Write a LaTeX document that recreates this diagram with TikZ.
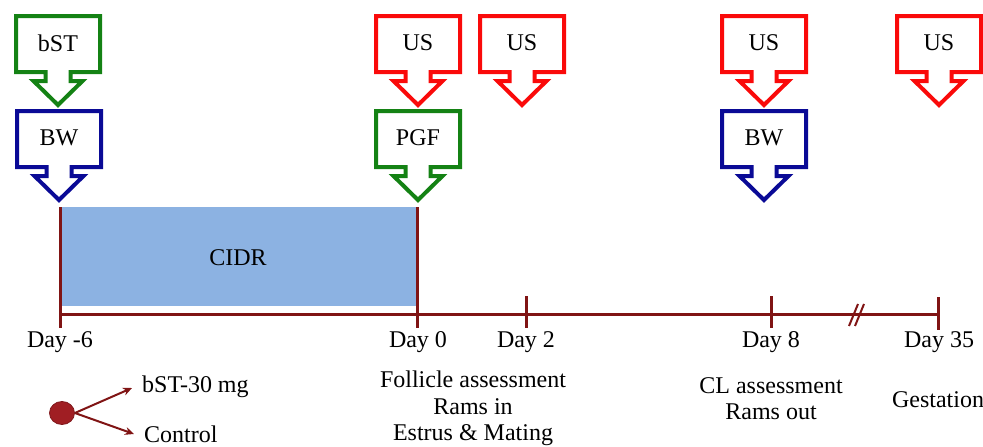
\documentclass[tikz,border=0pt]{standalone}
\usepackage{fontspec}
\setmainfont{Liberation Serif}
\usetikzlibrary{arrows.meta,shapes.geometric}
\definecolor{cgreen}{RGB}{20,130,20}
\definecolor{cred}{RGB}{250,10,10}
\definecolor{cblue}{RGB}{10,10,150}
\definecolor{cline}{RGB}{128,20,20}
\definecolor{cdot}{RGB}{160,30,35}
\definecolor{cfill}{RGB}{140,178,226}
\tikzset{
  txt/.style={font=\fontsize{24}{28}\selectfont, inner sep=0pt},
  calloutshape/.pic={
    \draw[line width=4pt, line join=miter, fill=white]
      (-42,0) -- (42,0) -- (42,56) -- (12.5,56) -- (12.5,65) -- (24.5,65)
      -- (0,89) -- (-24.5,65) -- (-12.5,65) -- (-12.5,56) -- (-42,56) -- cycle;
  },
  tline/.style={cline, line width=3pt},
  legarrow/.style={cline, line width=2pt, -{Stealth[length=9pt,width=8pt]}},
}
\newcommand{\mycallout}[5]{%
  \pic[#4] at (#2,#3) {calloutshape};
  \node[txt] (#1) at (#2,#3+27) {#5};
}
\begin{document}
\begin{tikzpicture}[x=1pt,y=-1pt]
\useasboundingbox (0,0) rectangle (983,447);
% callouts
\mycallout{bst}{58}{16}{cgreen}{bST}
\mycallout{bw1}{59}{111}{cblue}{BW}
\mycallout{us1}{418}{16}{cred}{US}
\mycallout{pgf}{418}{111}{cgreen}{PGF}
\mycallout{us2}{522}{16}{cred}{US}
\mycallout{us3}{764}{16}{cred}{US}
\mycallout{bw2}{764}{111}{cblue}{BW}
\mycallout{us4}{939}{16}{cred}{US}
% CIDR bar
\fill[cfill] (60,207) rectangle (417,306);
\node[txt] (cidr) at (238,258) {CIDR};
% timeline
\coordinate (t0) at (60,314);
\coordinate (t1) at (938,314);
\draw[tline] (t0) -- (t1);
\draw[tline] (60,207) -- (60,328);
\draw[tline] (417,207) -- (417,328);
\draw[tline] (526,296) -- (526,328);
\draw[tline] (771,296) -- (771,328);
\draw[tline] (938,297) -- (938,330);
% break marks
\draw[cline, line width=2pt] (849,326) -- (858,304);
\draw[cline, line width=2pt] (855,326) -- (864,304);
% day labels
\node[txt] (dm6) at (60,342) {Day -6};
\node[txt] (d0) at (418,342) {Day 0};
\node[txt] (d2) at (526,342) {Day 2};
\node[txt] (d8) at (771,342) {Day 8};
\node[txt] (d35) at (939,342) {Day 35};
% descriptions
\node[txt] (fol) at (473,379) {Follicle assessment};
\node[txt] (ramsin) at (473,407) {Rams in};
\node[txt] (estrus) at (473,435) {Estrus \& Mating};
\node[txt] (cl) at (771,386) {CL assessment};
\node[txt] (ramsout) at (771,412) {Rams out};
\node[txt] (gest) at (938,400) {Gestation};
% legend
\node[draw=cdot!80!black, fill=cdot, ellipse, minimum width=25pt, minimum height=23pt, inner sep=0pt, line width=0.8pt] (dot) at (62,413) {};
\node[txt, anchor=west] (lbst) at (142,387) {bST-30 mg};
\node[txt, anchor=west] (lctl) at (144,434) {Control};
\draw[legarrow] (dot.east) -- ([xshift=-10pt,yshift=-1pt]lbst.west);
\draw[legarrow] (dot.east) -- ([xshift=-10pt,yshift=0pt]lctl.west);
\end{tikzpicture}
\end{document}
